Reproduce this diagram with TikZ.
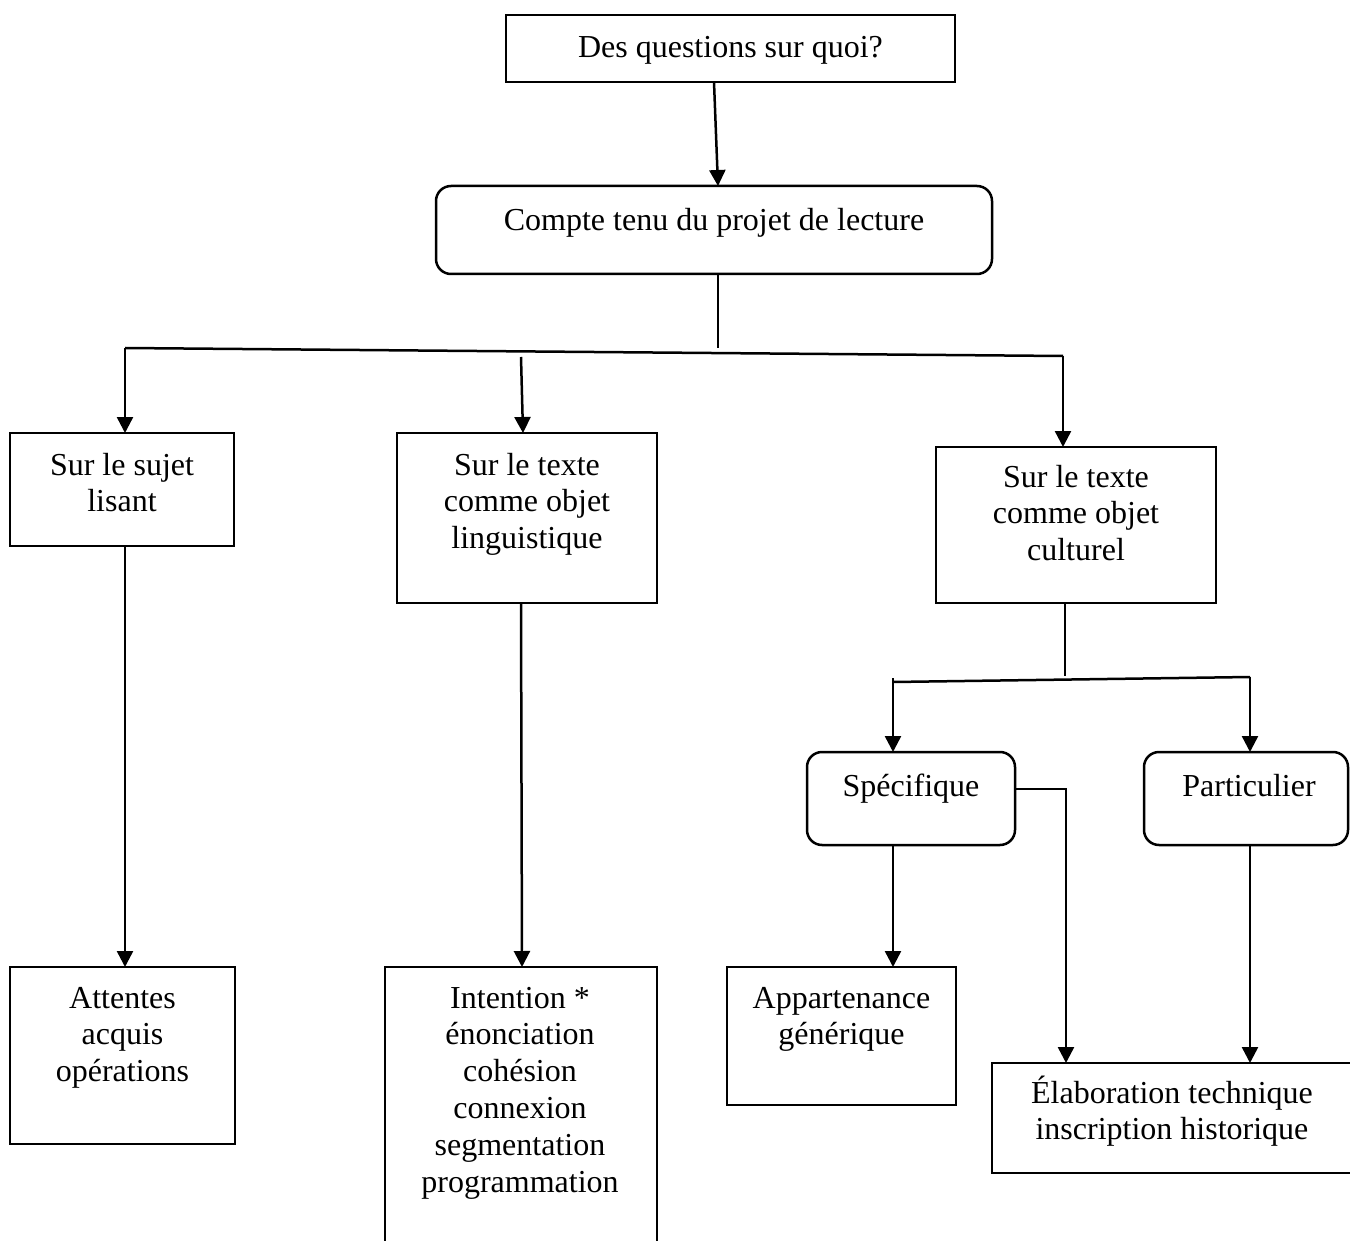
\documentclass[tikz,border=0pt]{standalone}
\usepackage{fontspec}
\setmainfont{Liberation Serif}
\usetikzlibrary{arrows.meta}
\newcommand{\fl}{\rule{0pt}{30pt}}
\begin{document}
\begin{tikzpicture}[x=1pt,y=-1pt,
  box/.style={draw, line width=2.5pt, inner sep=0pt, outer sep=0pt},
  rbox/.style={box, rounded corners=15pt},
  txt/.style={anchor=north, inner sep=0pt, outer sep=0pt, align=center, font=\fontsize{32}{36.8}\selectfont},
  conn/.style={line width=2.5pt},
  arr/.style={conn, -{Triangle[width=16pt,length=16pt]}}]
\useasboundingbox (0,0) rectangle (1350,1241);
\clip (0,0) rectangle (1350,1241);
% boxes
\node[box, minimum width=449pt, minimum height=67pt] (q) at (730.5,48.5) {};
\node[rbox, minimum width=556pt, minimum height=88pt] (c) at (714,230) {};
\node[box, minimum width=224pt, minimum height=113pt] (s) at (122,489.5) {};
\node[box, minimum width=260pt, minimum height=170pt] (l) at (527,518) {};
\node[box, minimum width=280pt, minimum height=156pt] (k) at (1076,525) {};
\node[rbox, minimum width=208pt, minimum height=93pt] (sp) at (911,798.5) {};
\node[rbox, minimum width=204pt, minimum height=93pt] (pa) at (1246,798.5) {};
\node[box, minimum width=225pt, minimum height=177pt] (at) at (122.5,1055.5) {};
\node[box, minimum width=272pt, minimum height=333pt] (in) at (521,1133.5) {};
\node[box, minimum width=229pt, minimum height=138pt] (ap) at (841.5,1036) {};
\node[box, minimum width=370pt, minimum height=110pt] (el) at (1177,1118) {};
% texts
\node[txt] (qT) at (730.5,28) {\fl Des questions sur quoi?};
\node[txt] (cT) at (714,201) {\fl Compte tenu du projet de lecture};
\node[txt] (sT) at (122,445) {\fl Sur le sujet\\lisant};
\node[txt] (lT) at (527,445) {\fl Sur le texte\\comme objet\\linguistique};
\node[txt] (kT) at (1076,457) {\fl Sur le texte\\comme objet\\culturel};
\node[txt] (spT) at (911,766) {\fl Spécifique};
\node[txt] (paT) at (1249,766) {\fl Particulier};
\node[txt] (atT) at (122.5,978) {\fl Attentes\\acquis\\opérations};
\node[txt] (inT) at (520,978) {\fl Intention *\\énonciation\\cohésion\\connexion\\segmentation\\programmation};
\node[txt] (apT) at (841.5,978) {\fl Appartenance\\générique};
\node[txt] (elT) at (1172,1073) {\fl Élaboration technique\\inscription historique};
% junction coordinates
\coordinate (j1) at (718,348);
\coordinate (hl) at (125,348);
\coordinate (hr) at (1063,356);
\coordinate (m1) at (521,357);
\coordinate (j2) at (1065,676);
\coordinate (sl0) at (893,678);
\coordinate (sl) at (893,682);
\coordinate (sr) at (1250,677);
\coordinate (pb) at ([xshift=4pt]pa.south);
% connectors
\draw[arr] ([xshift=-16.5pt]q.south) -- ([xshift=4pt]c.north);
\draw[conn] ([xshift=4pt]c.south) -- (j1);
\draw[conn] (hl) -- (hr);
\draw[arr] (hl) -- (hl |- s.north);
\draw[arr] (m1) -- ([xshift=-4pt]l.north);
\draw[arr] (hr) -- (hr |- k.north);
\draw[arr] ([xshift=3pt]s.south) -- ([xshift=2.5pt]at.north);
\draw[arr] ([xshift=-6pt]l.south) -- ([xshift=1pt]in.north);
\draw[conn] ([xshift=-11pt]k.south) -- (j2);
\draw[conn] (sl) -- (sr);
\draw[arr] (sl0) -- (sl0 |- sp.north);
\draw[arr] (sr) -- (sr |- pa.north);
\draw[arr] ([yshift=9.5pt]sp.east) -| ([xshift=-111pt]el.north);
\draw[arr] ([xshift=-18pt]sp.south) -- ([xshift=51.5pt]ap.north);
\draw[arr] (pb) -- (pb |- el.north);
\end{tikzpicture}
\end{document}
